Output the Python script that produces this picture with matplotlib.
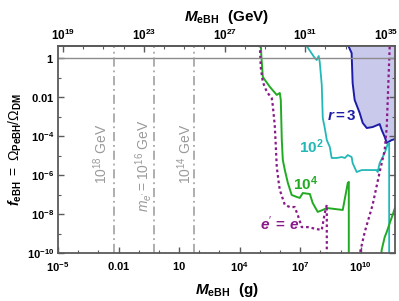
import numpy as np
import matplotlib
matplotlib.use("Agg")
import matplotlib.pyplot as plt
from matplotlib.ticker import FixedLocator, NullFormatter

plt.rcParams['font.family'] = ['Liberation Sans', 'DejaVu Sans']
plt.rcParams['mathtext.fontset'] = 'custom'
plt.rcParams['mathtext.rm'] = 'Liberation Sans'
plt.rcParams['mathtext.it'] = 'Liberation Sans:italic'
plt.rcParams['mathtext.bf'] = 'Liberation Sans:bold'
plt.rcParams['mathtext.bfit'] = 'Liberation Sans:bold:italic'

# curves, stored as log10(M/g), log10(f)
r3_logm = [9.36, 9.55, 9.60, 9.70, 9.95, 10.10, 10.30, 10.59, 10.94, 11.04, 11.19, 11.29, 11.53, 11.73]
r3_logf = [0.70, 0.27, -1.27, -2.14, -2.81, -3.32, -3.58, -3.53, -3.38, -3.68, -4.04, -4.35, -4.20, -4.14]

r100_logm = [7.28, 7.72, 7.82, 7.92, 7.97, 8.07, 8.12, 8.22, 8.32, 8.47, 8.56, 8.81, 9.06, 9.21, 9.36,
             9.55, 9.60, 9.80, 10.05, 10.45, 10.79, 10.84, 10.94, 11.19, 11.34, 11.41, 11.41]
r100_logf = [0.70, 0.02, -0.09, 0.12, -0.19, -1.37, -3.07, -3.58, -4.20, -4.56, -5.12, -5.12, -5.07, -5.12, -4.97,
             -5.07, -5.38, -5.84, -5.74, -5.74, -5.74, -5.84, -5.38, -4.86, -4.40, -4.35, -10.5]

r1e4_logm = [5.05, 5.08, 5.15, 5.50, 5.84, 5.99, 6.04, 6.09, 6.14, 6.24, 6.39, 6.58, 6.83, 6.98, 7.13,
             7.48, 7.62, 7.87, 8.12, 8.32, 9.11, 9.36, 9.41, 9.41]
r1e4_logf = [0.70, 0.07, -0.96, -1.47, -1.88, -1.78, -2.14, -4.20, -5.22, -5.74, -6.40, -7.02, -7.12, -7.17, -6.92,
             -6.97, -7.43, -7.89, -7.79, -7.69, -7.79, -6.40, -6.35, -10.5]
r1e4b_logm = [10.99, 11.04, 11.19, 11.29, 11.44, 11.58, 11.78]
r1e4b_logf = [-10.5, -9.84, -9.18, -8.92, -8.46, -8.05, -7.43]

ee_logm = [5.00, 5.05, 5.15, 5.35, 5.59, 5.64, 5.74, 5.79, 5.84, 5.94, 5.99, 6.24, 6.49, 6.73, 6.88,
           7.08, 7.38, 7.82, 8.07, 8.22, 8.32, 8.32]
ee_logf = [0.70, -0.50, -1.22, -1.73, -2.04, -2.40, -3.43, -4.45, -5.58, -6.40, -6.76, -7.53, -7.64, -7.64, -8.05,
           -8.67, -8.67, -8.77, -8.82, -7.95, -7.53, -10.5]
eeb_logm = [9.85, 10.20, 10.59, 10.94, 11.19, 11.29, 11.34, 11.44]
eeb_logf = [-10.5, -8.92, -7.53, -5.84, -4.71, -3.53, -2.14, 0.70]

# m_e' reference lines (log10 M/g)
me_lines = [-2.25, -0.25, 1.75]
me_labels = [r'$\mathrm{10^{18}\ GeV}$', r"$m_{e'}\mathrm{=10^{16}\ GeV}$", r'$\mathrm{10^{14}\ GeV}$']
me_text_x = [-2.88, -0.77, 1.26]
me_text_y = [-4.9, -5.5, -4.9]

xticks = [1e-5, 1e-2, 1e1, 1e4, 1e7, 1e10]
xticklabels = [r'$\mathbf{10^{-5}}$', r'$\mathbf{0.01}$', r'$\mathbf{10}$', r'$\mathbf{10^{4}}$',
               r'$\mathbf{10^{7}}$', r'$\mathbf{10^{10}}$']
yticks = [1, 1e-2, 1e-4, 1e-6, 1e-8, 1e-10]
yticklabels = [r'$\mathbf{1}$', r'$\mathbf{0.01}$', r'$\mathbf{10^{-4}}$', r'$\mathbf{10^{-6}}$',
               r'$\mathbf{10^{-8}}$', r'$\mathbf{10^{-10}}$']
top_ticks = [1e19, 1e23, 1e27, 1e31, 1e35]
top_labels = [r'$\mathbf{10^{19}}$', r'$\mathbf{10^{23}}$', r'$\mathbf{10^{27}}$', r'$\mathbf{10^{31}}$',
              r'$\mathbf{10^{35}}$']
GEV_PER_G = 5.61e23

blue = '#1c1ca8'
cyan = '#22b8b8'
green = '#22aa22'
purple = '#8a1a8a'
frame = '#5a5a5a'

fig = plt.figure(figsize=(3.99, 3.01), dpi=100)
ax = fig.add_axes([0.1454, 0.1595, 0.8446, 0.6875])

def p(a):
    return 10 ** np.array(a)

ax.fill_between(p(r3_logm), p(r3_logf), 10, color='#c9c9ec', lw=0)
ax.plot(p(r3_logm), p(r3_logf), color=blue, lw=1.4)
ax.plot(p(r100_logm), p(r100_logf), color=cyan, lw=1.3)
ax.plot(p(r1e4_logm), p(r1e4_logf), color=green, lw=1.4)
ax.plot(p(r1e4b_logm), p(r1e4b_logf), color=green, lw=1.4)
ax.plot(p(ee_logm), p(ee_logf), color=purple, lw=1.6, ls=(0, (1.2, 1.3)))
ax.plot(p(eeb_logm), p(eeb_logf), color=purple, lw=1.6, ls=(0, (1.2, 1.3)))

ax.axhline(1, color='#8c8c8c', lw=1.0)
for xl in me_lines:
    ax.axvline(10 ** xl, color='#999999', lw=1.1, ls=(0, (6, 2.5, 1.2, 2.5)))
for lab, tx, ty in zip(me_labels, me_text_x, me_text_y):
    ax.text(10 ** tx, 10 ** ty, lab, rotation=90, color='#9a9a9a', fontsize=10,
            ha='center', va='center')

ax.text(10 ** 9.06, 10 ** -2.94, r'$\mathbfit{r}\mathbf{=3}$', color=blue, fontsize=11, ha='center', va='center')
ax.text(10 ** 7.57, 10 ** -4.56, r'$\mathbf{10^{2}}$', color=cyan, fontsize=11, ha='center', va='center')
ax.text(10 ** 7.28, 10 ** -6.46, r'$\mathbf{10^{4}}$', color=green, fontsize=11, ha='center', va='center')
ax.text(10 ** 5.99, 10 ** -8.51, r"$\mathbfit{e}^{\prime}\,\mathbf{=}\,\mathbfit{e}$", color=purple, fontsize=11,
        ha='center', va='center')

ax.set_xscale('log')
ax.set_yscale('log')
ax.set_xlim(1e-5, 10 ** 11.7)
ax.set_ylim(1e-10, 10 ** 0.63)

ax.xaxis.set_major_locator(FixedLocator(xticks))
ax.set_xticklabels(xticklabels)
ax.xaxis.set_minor_locator(FixedLocator([10.0 ** k for k in range(-5, 12)]))
ax.xaxis.set_minor_formatter(NullFormatter())
ax.yaxis.set_major_locator(FixedLocator(yticks))
ax.set_yticklabels(yticklabels)
ax.yaxis.set_minor_locator(FixedLocator([10.0 ** k for k in range(-10, 1)]))
ax.yaxis.set_minor_formatter(NullFormatter())
ax.tick_params(which='both', direction='in', color=frame, labelsize=8, right=True)
ax.tick_params(axis='x', pad=5)
ax.tick_params(axis='y', pad=3)
ax.tick_params(which='major', length=4, width=1)
ax.tick_params(which='minor', length=2.5, width=0.8)
for s in ax.spines.values():
    s.set_color(frame)
    s.set_linewidth(1.3)

sec = ax.secondary_xaxis('top', functions=(lambda m: m * GEV_PER_G, lambda e: e / GEV_PER_G))
sec.xaxis.set_major_locator(FixedLocator(top_ticks))
sec.set_xticklabels(top_labels)
sec.xaxis.set_minor_locator(FixedLocator([10.0 ** k for k in range(18, 37)]))
sec.xaxis.set_minor_formatter(NullFormatter())
sec.tick_params(which='both', direction='in', color=frame, labelsize=8.5, pad=2)
sec.tick_params(which='major', length=4, width=1)
sec.tick_params(which='minor', length=2.5, width=0.8)
sec.spines['top'].set_color(frame)
sec.spines['top'].set_linewidth(1.3)

ax.set_xlabel(r'$\mathbfit{M}_{\mathbf{eBH}}\ \ \mathbf{(g)}$', fontsize=11, labelpad=5)
sec.set_xlabel(r'$\mathbfit{M}_{\mathbf{eBH}}\ \ \mathbf{(GeV)}$', fontsize=11, labelpad=5)
ax.set_ylabel(r'$\mathbfit{f}_{\mathbf{eBH}}\ \mathrm{=\ \Omega_{\mathbf{PeBH}}/\Omega_{\mathbf{DM}}}$',
              fontsize=10, labelpad=2)

fig.savefig('out.png', dpi=100)
